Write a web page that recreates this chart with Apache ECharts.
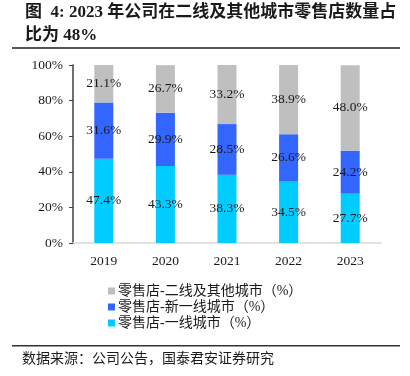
<!DOCTYPE html>
<html>
<head>
<meta charset="utf-8">
<script src="https://cdn.jsdelivr.net/npm/echarts@6/dist/echarts.min.js"></script>
<style>
  html, body { margin: 0; padding: 0; background: #fff; }
  #chart { width: 410px; height: 376px; }
</style>
</head>
<body>
<div id="chart"></div>
<script>
    var years = ['2019', '2020', '2021', '2022', '2023'];
    var tier1 = [47.4, 43.3, 38.3, 34.5, 27.7];
    var newTier1 = [31.6, 29.9, 28.5, 26.6, 24.2];
    var tier2Other = [21.1, 26.7, 33.2, 38.9, 48.0];
    var seriesNames = ['零售店-一线城市（%）', '零售店-新一线城市（%）', '零售店-二线及其他城市（%）'];
    var seriesColors = ['#00CCFF', '#3366FF', '#BFBFBF'];

    var serifFont = '"Liberation Serif", "Noto Sans CJK SC", serif';

    var makeSeries = function (name, values, color) {
        return {
            name: name,
            type: 'bar',
            stack: 'total',
            barWidth: 19,
            data: values,
            itemStyle: { color: color },
            label: {
                show: true,
                position: 'inside',
                color: '#1a1a1a',
                fontFamily: serifFont,
                fontSize: 13.5,
                formatter: function (p) { return p.value.toFixed(1) + '%'; }
            }
        };
    };

    var option = {
        backgroundColor: '#fff',
        animation: false,
        title: {
            text: '图  4: 2023 年公司在二线及其他城市零售店数量占\n比为 48%',
            left: 20,
            top: -4,
            textStyle: {
                fontFamily: serifFont,
                fontWeight: 'bold',
                fontSize: 17,
                lineHeight: 23,
                color: '#1a1a1a'
            }
        },
        graphic: [
            { type: 'rect', shape: { x: 12, y: 47, width: 388, height: 2 }, style: { fill: '#555' } },
            { type: 'rect', shape: { x: 12, y: 345, width: 388, height: 1.5 }, style: { fill: '#333' } },
            {
                type: 'text', left: 22, top: 351,
                style: { text: '数据来源：公司公告，国泰君安证券研究', font: '14px "Noto Sans CJK SC"', fill: '#1a1a1a' }
            }
        ],
        legend: {
            orient: 'vertical',
            left: 103,
            top: 279,
            itemWidth: 7,
            itemHeight: 7,
            itemGap: 2,
            icon: 'rect',
            data: [seriesNames[2], seriesNames[1], seriesNames[0]],
            textStyle: { fontFamily: serifFont, fontSize: 14, color: '#1a1a1a', padding: [0, 0, 0, -2] }
        },
        grid: { left: 73, right: 29, top: 65, bottom: 133 },
        xAxis: {
            type: 'category',
            data: years,
            axisLine: { lineStyle: { color: '#D9D9D9', width: 1.5 } },
            axisTick: { show: false },
            axisLabel: { color: '#1a1a1a', fontFamily: serifFont, fontSize: 13.5, margin: 12 }
        },
        yAxis: {
            type: 'value',
            min: 0,
            max: 100,
            interval: 20,
            axisLine: { show: true, lineStyle: { color: '#404040', width: 1.5 } },
            axisTick: { show: true, length: 4, lineStyle: { color: '#404040' } },
            splitLine: { show: false },
            axisLabel: {
                color: '#1a1a1a', fontFamily: serifFont, fontSize: 13.5, margin: 10,
                formatter: '{value}%'
            }
        },
        series: [
            makeSeries(seriesNames[0], tier1, seriesColors[0]),
            makeSeries(seriesNames[1], newTier1, seriesColors[1]),
            makeSeries(seriesNames[2], tier2Other, seriesColors[2])
        ]
    };

    var myChart = echarts.init(document.getElementById('chart'), null, { renderer: 'canvas' });
    myChart.setOption(option);
</script>
</body>
</html>
